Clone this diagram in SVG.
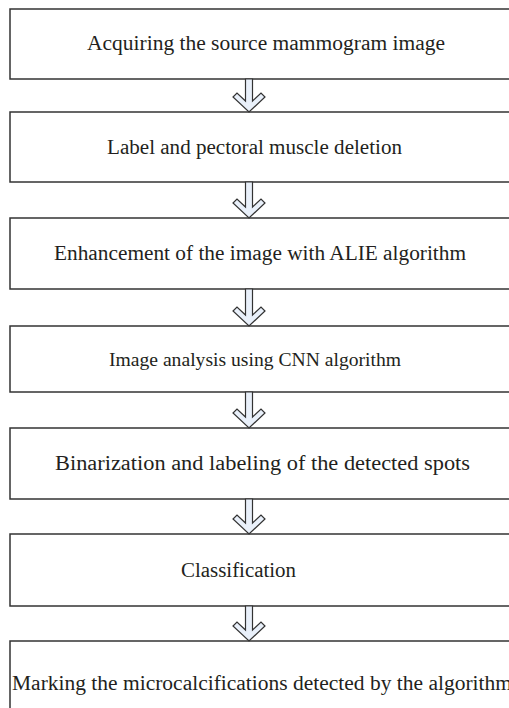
<svg xmlns="http://www.w3.org/2000/svg" width="509" height="708" viewBox="0 0 509 708">
  <style>
    .box { fill: #ffffff; stroke: #333333; stroke-width: 1.5; }
    .lbl { font-family: "Liberation Serif", "Times New Roman", serif; font-size: 20px; fill: #231f20; }
    .arr { fill: #e9f0fa; stroke: #333333; stroke-width: 1.2; stroke-linejoin: miter; }
  </style>
  <rect width="509" height="708" fill="#ffffff"/>

  <g id="step1">
    <rect class="box" x="10" y="9" width="520" height="70"/>
    <text class="lbl" x="87" y="50" textLength="358" lengthAdjust="spacingAndGlyphs">Acquiring the source mammogram image</text>
  </g>
  <g id="step2">
    <rect class="box" x="10" y="112" width="520" height="70"/>
    <text class="lbl" x="107" y="154" textLength="295" lengthAdjust="spacingAndGlyphs">Label and pectoral muscle deletion</text>
  </g>
  <g id="step3">
    <rect class="box" x="10" y="218" width="520" height="71"/>
    <text class="lbl" x="54" y="260" textLength="412" lengthAdjust="spacingAndGlyphs">Enhancement of the image with ALIE algorithm</text>
  </g>
  <g id="step4">
    <rect class="box" x="10" y="326" width="520" height="66"/>
    <text class="lbl" x="109" y="366" textLength="292" lengthAdjust="spacingAndGlyphs" style="font-size:19.5px">Image analysis using CNN algorithm</text>
  </g>
  <g id="step5">
    <rect class="box" x="10" y="428" width="520" height="71"/>
    <text class="lbl" x="55" y="470" textLength="415" lengthAdjust="spacingAndGlyphs">Binarization and labeling of the detected spots</text>
  </g>
  <g id="step6">
    <rect class="box" x="10" y="534" width="520" height="72"/>
    <text class="lbl" x="181" y="577" textLength="115" lengthAdjust="spacingAndGlyphs">Classification</text>
  </g>
  <g id="step7">
    <rect class="box" x="10" y="641" width="520" height="80"/>
    <text class="lbl" x="12" y="690" textLength="500" lengthAdjust="spacingAndGlyphs">Marking the microcalcifications detected by the algorithm</text>
  </g>

  <g id="connectors">
    <polygon class="arr" points="245.5,79 252.5,79 252.5,101 261,93 265,97 249,112 233,97 237,93 245.5,101"/>
    <polygon class="arr" points="245.5,182 252.5,182 252.5,207 261,199 265,203 249,218 233,203 237,199 245.5,207"/>
    <polygon class="arr" points="245.5,289 252.5,289 252.5,315 261,307 265,311 249,326 233,311 237,307 245.5,315"/>
    <polygon class="arr" points="245.5,392 252.5,392 252.5,417 261,409 265,413 249,428 233,413 237,409 245.5,417"/>
    <polygon class="arr" points="245.5,499 252.5,499 252.5,523 261,515 265,519 249,534 233,519 237,515 245.5,523"/>
    <polygon class="arr" points="245.5,606 252.5,606 252.5,630 261,622 265,626 249,641 233,626 237,622 245.5,630"/>
  </g>
</svg>
